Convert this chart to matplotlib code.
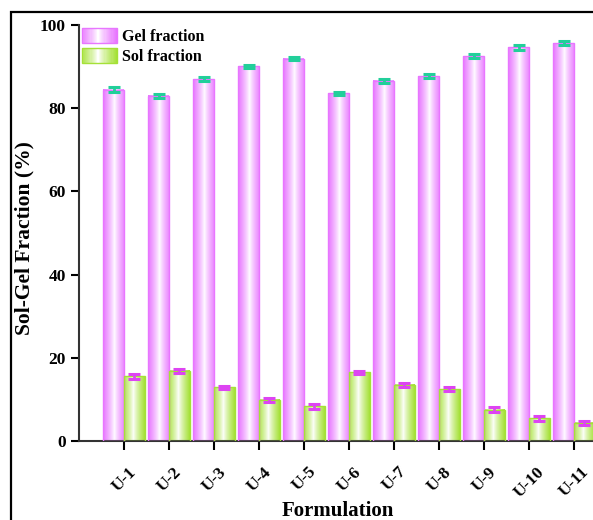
import numpy as np
import matplotlib
matplotlib.use("Agg")
import matplotlib.pyplot as plt
from matplotlib.patches import Rectangle
from matplotlib.legend_handler import HandlerBase

# Daten
formulations = ["U-1", "U-2", "U-3", "U-4", "U-5", "U-6", "U-7", "U-8", "U-9", "U-10", "U-11"]
gel_fraction = [84.4, 83.0, 87.0, 90.1, 91.9, 83.6, 86.6, 87.7, 92.5, 94.6, 95.6]
gel_error = [0.6, 0.5, 0.4, 0.4, 0.3, 0.4, 0.5, 0.5, 0.5, 0.5, 0.5]
sol_fraction = [15.6, 16.9, 12.9, 9.9, 8.3, 16.5, 13.5, 12.4, 7.5, 5.5, 4.4]
sol_error = [0.6, 0.5, 0.4, 0.5, 0.5, 0.4, 0.5, 0.5, 0.6, 0.6, 0.5]

GEL_COL = np.array([232, 118, 255]) / 255
SOL_COL = np.array([165, 225, 55]) / 255
GEL_ERR = "#22cf9a"
SOL_ERR = "#dd44f2"

plt.rcParams["font.family"] = ["Liberation Serif", "DejaVu Serif"]
plt.rcParams["font.weight"] = "bold"


def gradient(col, n=64):
    t = np.linspace(0, 1, n)
    a = np.clip(np.abs(t - 0.45) / 0.55, 0, 1) ** 0.8
    rgb = (1 - a)[:, None] * np.ones(3) + a[:, None] * col
    return rgb[None, :, :]


def gradient_bars(ax, bars, col):
    img = gradient(col)
    for b in bars:
        x0, y0 = b.get_x(), b.get_y()
        w, h = b.get_width(), b.get_height()
        ax.imshow(img, extent=(x0, x0 + w, y0, y0 + h), aspect="auto",
                  interpolation="bilinear", zorder=2)
        b.set_facecolor("none")
        b.set_edgecolor(col)
        b.set_linewidth(1.0)
        b.set_zorder(3)


class GradientHandler(HandlerBase):
    def __init__(self, col):
        super().__init__()
        self.col = col

    def create_artists(self, legend, orig_handle, xdescent, ydescent,
                       width, height, fontsize, trans):
        img = gradient(self.col, n=30)[0]
        arts = []
        n = len(img)
        for i, c in enumerate(img):
            r = Rectangle((-xdescent + width * i / n, -ydescent), width / n + 0.3,
                          height, facecolor=c, edgecolor="none", transform=trans)
            arts.append(r)
        arts.append(Rectangle((-xdescent, -ydescent), width, height,
                              facecolor="none", edgecolor=self.col, lw=1.0,
                              transform=trans))
        return arts


fig = plt.figure(figsize=(5.93, 5.20), dpi=100)
ax = fig.add_axes([79 / 593, 1 - 441 / 520, 540 / 593, 416 / 520])

x = np.arange(1, len(formulations) + 1)
w = 0.465
gel_bars = ax.bar(x, gel_fraction, width=-w, align="edge", label="Gel fraction")
sol_bars = ax.bar(x, sol_fraction, width=w, align="edge", label="Sol fraction")
gradient_bars(ax, gel_bars, GEL_COL)
gradient_bars(ax, sol_bars, SOL_COL)

ax.errorbar(x - w / 2, gel_fraction, yerr=gel_error, fmt="none", ecolor=GEL_ERR,
            elinewidth=2.0, capsize=4, capthick=2.2, zorder=4)
ax.errorbar(x + w / 2, sol_fraction, yerr=sol_error, fmt="none", ecolor=SOL_ERR,
            elinewidth=2.0, capsize=4, capthick=2.2, zorder=4)

ax.set_xlim(0, 12)
ax.set_ylim(0, 100)
ax.set_yticks([0, 20, 40, 60, 80, 100])
ax.set_xticks(x)
ax.set_xticklabels(formulations, rotation=45, ha="center", va="top")
ax.tick_params(axis="x", direction="out", length=6.5, width=1.5, pad=10, labelsize=12.5)
ax.tick_params(axis="y", direction="out", length=6, width=1.5, pad=3.5, labelsize=12.5)
for lab in ax.get_xticklabels() + ax.get_yticklabels():
    lab.set_fontweight("bold")

for s in ["top", "right"]:
    ax.spines[s].set_visible(False)
for s in ["left", "bottom"]:
    ax.spines[s].set_linewidth(1.5)
    ax.spines[s].set_color("#333333")

leg = ax.legend(handles=[gel_bars, sol_bars], loc="upper left",
                bbox_to_anchor=(0.0, 1.0), frameon=False, fontsize=11.5,
                handlelength=2.2, handleheight=1.05, handletextpad=0.3,
                labelspacing=0.2, borderaxespad=0.0, borderpad=0.2,
                handler_map={gel_bars: GradientHandler(GEL_COL),
                             sol_bars: GradientHandler(SOL_COL)})
for t in leg.get_texts():
    t.set_fontweight("bold")

fig.text(24 / 593, 1 - 238 / 520, "Sol-Gel Fraction (%)", rotation=90,
         ha="center", va="center", fontsize=15.5, fontweight="bold")
fig.text(338 / 593, 1 - 501 / 520, "Formulation", ha="center", va="top",
         fontsize=15, fontweight="bold")

# Rahmen um die Abbildung
fig.patches.append(Rectangle((11 / 593, -0.5), 2, 0.5 + 1 - 12 / 520,
                             transform=fig.transFigure, fill=False,
                             edgecolor="black", lw=1.6))

fig.savefig("out.png", dpi=100)
plt.close(fig)
